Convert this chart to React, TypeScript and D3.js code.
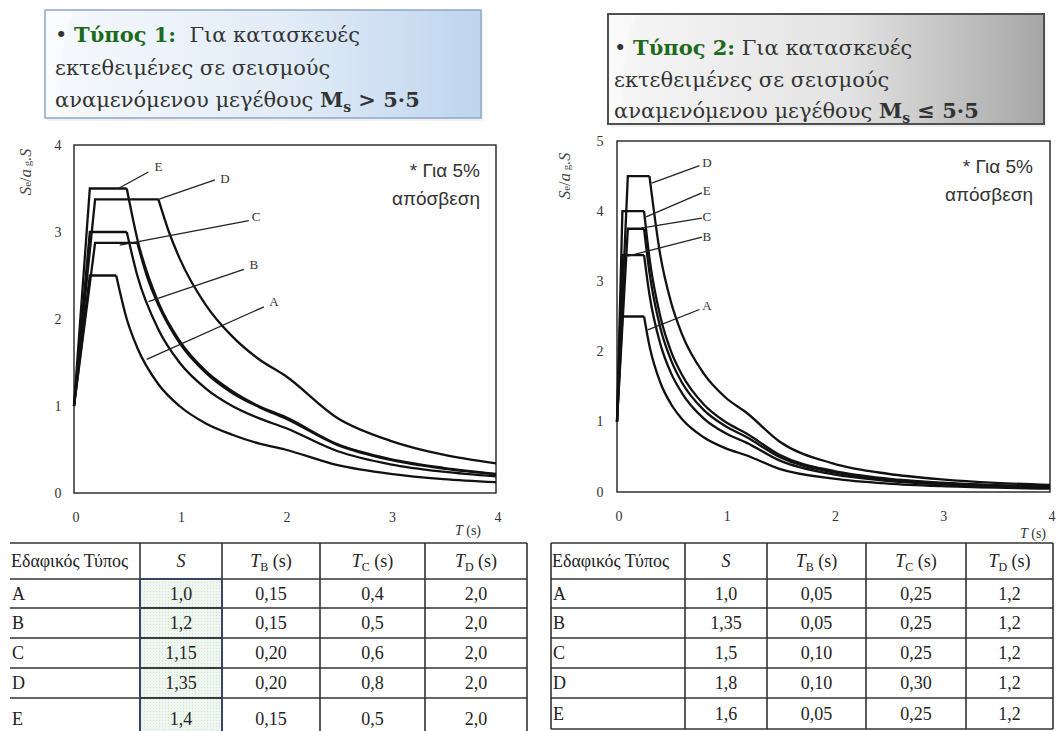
import { useRef, useEffect } from "react";
import * as d3 from "d3";

type Pt = [number, number];

const soilTypes = ["A", "B", "C", "D", "E"];

// Τύπος 1 (Ms > 5.5) table values
const type1S = ["1,0", "1,2", "1,15", "1,35", "1,4"];
const type1TB = ["0,15", "0,15", "0,20", "0,20", "0,15"];
const type1TC = ["0,4", "0,5", "0,6", "0,8", "0,5"];
const type1TD = ["2,0", "2,0", "2,0", "2,0", "2,0"];

// Τύπος 2 (Ms <= 5.5) table values
const type2S = ["1,0", "1,35", "1,5", "1,8", "1,6"];
const type2TB = ["0,05", "0,05", "0,10", "0,10", "0,05"];
const type2TC = ["0,25", "0,25", "0,25", "0,30", "0,25"];
const type2TD = ["1,2", "1,2", "1,2", "1,2", "1,2"];

const periodTicks = [0, 1, 2, 3, 4];
const type1YTicks = [0, 1, 2, 3, 4];
const type2YTicks = [0, 1, 2, 3, 4, 5];

// spectra: [T (s), Se/ag]
const type1A: Pt[] = [[0, 1], [0.15, 2.5], [0.4, 2.5], [0.5, 2.0], [0.6, 1.67], [0.8, 1.25], [1.0, 1.0], [1.25, 0.8], [1.5, 0.67], [1.75, 0.57], [2.0, 0.5], [2.5, 0.32], [3.0, 0.22], [3.5, 0.16], [4.0, 0.125]];
const type1B: Pt[] = [[0, 1], [0.15, 3.0], [0.5, 3.0], [0.6, 2.5], [0.8, 1.88], [1.0, 1.5], [1.25, 1.2], [1.5, 1.0], [1.75, 0.86], [2.0, 0.75], [2.5, 0.48], [3.0, 0.33], [3.5, 0.245], [4.0, 0.19]];
const type1C: Pt[] = [[0, 1], [0.2, 2.875], [0.6, 2.875], [0.7, 2.46], [0.8, 2.16], [1.0, 1.725], [1.25, 1.38], [1.5, 1.15], [1.75, 0.99], [2.0, 0.86], [2.5, 0.55], [3.0, 0.38], [3.5, 0.28], [4.0, 0.215]];
const type1D: Pt[] = [[0, 1], [0.2, 3.375], [0.8, 3.375], [0.9, 3.0], [1.0, 2.7], [1.25, 2.16], [1.5, 1.8], [1.75, 1.54], [2.0, 1.35], [2.5, 0.86], [3.0, 0.6], [3.5, 0.44], [4.0, 0.34]];
const type1E: Pt[] = [[0, 1], [0.15, 3.5], [0.5, 3.5], [0.6, 2.92], [0.8, 2.19], [1.0, 1.75], [1.25, 1.4], [1.5, 1.17], [1.75, 1.0], [2.0, 0.875], [2.5, 0.56], [3.0, 0.39], [3.5, 0.29], [4.0, 0.22]];

const type2A: Pt[] = [[0, 1], [0.05, 2.5], [0.25, 2.5], [0.3, 2.08], [0.4, 1.56], [0.5, 1.25], [0.6, 1.04], [0.8, 0.78], [1.0, 0.625], [1.2, 0.52], [1.5, 0.33], [2.0, 0.19], [2.5, 0.12], [3.0, 0.083], [3.5, 0.061], [4.0, 0.047]];
const type2B: Pt[] = [[0, 1], [0.05, 3.375], [0.25, 3.375], [0.3, 2.81], [0.4, 2.11], [0.5, 1.69], [0.6, 1.41], [0.8, 1.05], [1.0, 0.84], [1.2, 0.7], [1.5, 0.45], [2.0, 0.25], [2.5, 0.16], [3.0, 0.11], [3.5, 0.083], [4.0, 0.063]];
const type2C: Pt[] = [[0, 1], [0.1, 3.75], [0.25, 3.75], [0.3, 3.125], [0.4, 2.34], [0.5, 1.875], [0.6, 1.56], [0.8, 1.17], [1.0, 0.94], [1.2, 0.78], [1.5, 0.5], [2.0, 0.28], [2.5, 0.18], [3.0, 0.125], [3.5, 0.092], [4.0, 0.07]];
const type2D: Pt[] = [[0, 1], [0.1, 4.5], [0.3, 4.5], [0.4, 3.375], [0.5, 2.7], [0.6, 2.25], [0.8, 1.69], [1.0, 1.35], [1.2, 1.125], [1.5, 0.72], [2.0, 0.405], [2.5, 0.26], [3.0, 0.18], [3.5, 0.13], [4.0, 0.1]];
const type2E: Pt[] = [[0, 1], [0.05, 4.0], [0.25, 4.0], [0.3, 3.33], [0.4, 2.5], [0.5, 2.0], [0.6, 1.67], [0.8, 1.25], [1.0, 1.0], [1.2, 0.83], [1.5, 0.53], [2.0, 0.3], [2.5, 0.19], [3.0, 0.133], [3.5, 0.098], [4.0, 0.075]];

// leader lines for the curve names: from (T, Se/ag) on the curve to the label
const type1Leaders = [
  { name: "E", from: [0.42, 3.5], to: [0.705, 3.69], at: [0.8, 3.75] },
  { name: "D", from: [0.8, 3.375], to: [1.336, 3.6], at: [1.43, 3.62] },
  { name: "C", from: [0.434, 2.85], to: [1.657, 3.13], at: [1.727, 3.18] },
  { name: "B", from: [0.705, 2.2], to: [1.61, 2.57], at: [1.705, 2.63] },
  { name: "A", from: [0.689, 1.535], to: [1.8, 2.14], at: [1.895, 2.2] },
];
const type2Leaders = [
  { name: "D", from: [0.321, 4.4], to: [0.762, 4.65], at: [0.83, 4.69] },
  { name: "E", from: [0.269, 3.92], to: [0.784, 4.26], at: [0.83, 4.29] },
  { name: "C", from: [0.222, 3.76], to: [0.784, 3.9], at: [0.83, 3.92] },
  { name: "B", from: [0.099, 3.36], to: [0.784, 3.63], at: [0.83, 3.64] },
  { name: "A", from: [0.284, 2.31], to: [0.762, 2.6], at: [0.83, 2.66] },
];

const W = 1059;
const H = 731;
const SERIF = "'Liberation Serif', 'Times New Roman', serif";
const BOX_SERIF = "'DejaVu Serif', serif";
const SANS = "'Liberation Sans', Arial, sans-serif";

type Sel = d3.Selection<SVGSVGElement, unknown, null, undefined>;

function drawSpectrum(
  svg: Sel,
  cfg: {
    x: d3.ScaleLinear<number, number>;
    y: d3.ScaleLinear<number, number>;
    yTicks: number[];
    curves: Pt[][];
    leaders: { name: string; from: number[]; to: number[]; at: number[] }[];
    yLabel: [number, number];
    tickLabelX: number;
    tUnitPos: [number, number];
    noteRight: number;
  }
) {
  const { x, y, yTicks, curves, leaders } = cfg;
  const g = svg.append("g");
  const yMax = yTicks[yTicks.length - 1];

  // frame
  g.append("rect")
    .attr("x", x(0))
    .attr("y", y(yMax))
    .attr("width", x(4) - x(0))
    .attr("height", y(0) - y(yMax))
    .attr("fill", "#fff")
    .attr("stroke", "#222")
    .attr("stroke-width", 1.4);

  // spectra: straight rise + plateau, smooth decay
  const straight = d3.line<Pt>().x(d => x(d[0])).y(d => y(d[1]));
  const smooth = d3.line<Pt>().x(d => x(d[0])).y(d => y(d[1])).curve(d3.curveMonotoneX);
  curves.forEach(c => {
    g.append("path").attr("d", straight(c.slice(0, 3))).attr("fill", "none")
      .attr("stroke", "#111").attr("stroke-width", 2.3).attr("stroke-linejoin", "miter");
    g.append("path").attr("d", smooth(c.slice(2))).attr("fill", "none")
      .attr("stroke", "#111").attr("stroke-width", 2.3);
  });

  // leader lines + names
  leaders.forEach(l => {
    g.append("line")
      .attr("x1", x(l.from[0])).attr("y1", y(l.from[1]))
      .attr("x2", x(l.to[0])).attr("y2", y(l.to[1]))
      .attr("stroke", "#222").attr("stroke-width", 1.3);
    g.append("text")
      .attr("x", x(l.at[0])).attr("y", y(l.at[1]))
      .attr("text-anchor", "middle").attr("dominant-baseline", "central")
      .attr("font-family", SERIF).attr("font-size", 13).attr("fill", "#333")
      .text(l.name);
  });

  // tick labels
  g.selectAll(".yt").data(yTicks).join("text")
    .attr("x", cfg.tickLabelX).attr("y", d => y(d))
    .attr("text-anchor", "middle").attr("dominant-baseline", "central")
    .attr("font-family", SERIF).attr("font-size", 14).attr("fill", "#333")
    .text(d => d);
  g.selectAll(".xt").data(periodTicks).join("text")
    .attr("x", d => x(d) + 2).attr("y", y(0) + 24)
    .attr("text-anchor", "middle").attr("dominant-baseline", "central")
    .attr("font-family", SERIF).attr("font-size", 14).attr("fill", "#333")
    .text(d => d);

  // T (s)
  const tl = g.append("text").attr("x", cfg.tUnitPos[0]).attr("y", cfg.tUnitPos[1])
    .attr("text-anchor", "middle").attr("font-family", SERIF).attr("font-size", 14).attr("fill", "#333");
  tl.append("tspan").attr("font-style", "italic").text("T");
  tl.append("tspan").text(" (s)");

  // Se/ag.S
  const yl = g.append("text")
    .attr("transform", `translate(${cfg.yLabel[0]},${cfg.yLabel[1]}) rotate(-90)`)
    .attr("text-anchor", "middle").attr("font-family", SERIF).attr("fill", "#444");
  yl.append("tspan").attr("font-style", "italic").attr("font-size", 17).text("S");
  yl.append("tspan").attr("font-size", 11).text("e");
  yl.append("tspan").attr("font-size", 16).text("/");
  yl.append("tspan").attr("font-style", "italic").attr("font-size", 17).text("a");
  yl.append("tspan").attr("font-size", 11).text(" g");
  yl.append("tspan").attr("font-style", "italic").attr("font-size", 16).text(".S");

  // damping note
  const note = g.append("text").attr("text-anchor", "end").attr("font-family", SANS)
    .attr("font-size", 19).attr("fill", "#333");
  note.append("tspan").attr("x", cfg.noteRight).attr("y", y(yMax) + 32).text("* Για 5%");
  note.append("tspan").attr("x", cfg.noteRight).attr("y", y(yMax) + 60).text("απόσβεση");
}

function drawTable(
  svg: Sel,
  cfg: {
    colX: number[];
    rowY: number[];
    leftBorder: boolean;
    lineStart: number;
    values: string[][];
    highlight: boolean;
  }
) {
  const { colX, rowY, values } = cfg;
  const g = svg.append("g").attr("font-family", SERIF).attr("font-size", 18).attr("fill", "#222");
  const right = colX[colX.length - 1];

  if (cfg.highlight) {
    for (let r = 1; r < rowY.length - 1; r++) {
      g.append("rect")
        .attr("x", colX[1]).attr("y", rowY[r])
        .attr("width", colX[2] - colX[1]).attr("height", rowY[r + 1] - rowY[r])
        .attr("fill", "url(#sdots)").attr("stroke", "#3b4668").attr("stroke-width", 1.8);
    }
  }

  // horizontal rules
  rowY.forEach((yy, i) => {
    if (i === rowY.length - 1 && !cfg.leftBorder) return;
    g.append("line").attr("x1", cfg.lineStart).attr("x2", right).attr("y1", yy).attr("y2", yy)
      .attr("stroke", "#333").attr("stroke-width", 1.6);
  });
  // vertical rules
  colX.forEach((xx, i) => {
    if (i === 0 && !cfg.leftBorder) return;
    g.append("line").attr("x1", xx).attr("x2", xx).attr("y1", rowY[0]).attr("y2", rowY[rowY.length - 1])
      .attr("stroke", "#333").attr("stroke-width", 1.6);
  });
  if (cfg.highlight) {
    g.append("rect").attr("x", colX[1]).attr("y", rowY[1])
      .attr("width", colX[2] - colX[1]).attr("height", rowY[rowY.length - 1] - rowY[1])
      .attr("fill", "none").attr("stroke", "#3b4668").attr("stroke-width", 1.8);
  }

  const mid = (r: number) => (rowY[r] + rowY[r + 1]) / 2 + 6;

  // header
  g.append("text").attr("x", colX[0] + 1).attr("y", mid(0)).attr("textLength", 117)
    .attr("lengthAdjust", "spacingAndGlyphs").text("Εδαφικός Τύπος");
  g.append("text").attr("x", (colX[1] + colX[2]) / 2).attr("y", mid(0))
    .attr("text-anchor", "middle").attr("font-style", "italic").text("S");
  ["B", "C", "D"].forEach((sub, i) => {
    const t = g.append("text").attr("x", (colX[i + 2] + colX[i + 3]) / 2).attr("y", mid(0))
      .attr("text-anchor", "middle");
    t.append("tspan").attr("font-style", "italic").text("T");
    t.append("tspan").attr("font-size", 12).attr("dy", 4).text(sub);
    t.append("tspan").attr("dy", -4).text(" (s)");
  });

  soilTypes.forEach((s, r) => {
    g.append("text").attr("x", colX[0] + 2).attr("y", mid(r + 1)).text(s);
    values.forEach((col, c) => {
      g.append("text").attr("x", (colX[c + 1] + colX[c + 2]) / 2).attr("y", mid(r + 1))
        .attr("text-anchor", "middle").text(col[r]);
    });
  });
}

function drawCallout(
  svg: Sel,
  cfg: { x: number; y: number; w: number; h: number; fill: string; stroke: string; strokeW: number; tx: number; lines: number[]; label: string; gap: string; rel: string }
) {
  const g = svg.append("g");
  g.append("rect").attr("x", cfg.x + 2).attr("y", cfg.y + 3).attr("width", cfg.w).attr("height", cfg.h)
    .attr("fill", "#000").attr("opacity", 0.06);
  g.append("rect").attr("x", cfg.x).attr("y", cfg.y).attr("width", cfg.w).attr("height", cfg.h)
    .attr("fill", cfg.fill).attr("stroke", cfg.stroke).attr("stroke-width", cfg.strokeW);
  // glossy left highlight
  g.append("path")
    .attr("d", `M${cfg.x + 1},${cfg.y + 1} L${cfg.x + 28},${cfg.y + 1} Q${cfg.x + 8},${cfg.y + cfg.h / 2} ${cfg.x + 18},${cfg.y + cfg.h - 1} L${cfg.x + 1},${cfg.y + cfg.h - 1} Z`)
    .attr("fill", "#fff").attr("opacity", 0.45);

  const t = g.append("text").attr("font-family", BOX_SERIF).attr("font-size", 21).attr("fill", "#333")
    .style("white-space", "pre");
  const l1 = t.append("tspan").attr("x", cfg.tx).attr("y", cfg.lines[0]);
  l1.append("tspan").text("• ");
  l1.append("tspan").attr("font-weight", "bold").attr("fill", "#1d6a1d").text(cfg.label);
  l1.append("tspan").text(cfg.gap + "Για κατασκευές");
  t.append("tspan").attr("x", cfg.tx).attr("y", cfg.lines[1]).text("εκτεθειμένες σε σεισμούς");
  const l3 = t.append("tspan").attr("x", cfg.tx).attr("y", cfg.lines[2]);
  l3.append("tspan").text("αναμενόμενου μεγέθους ");
  l3.append("tspan").attr("font-weight", "bold").text("M");
  l3.append("tspan").attr("font-weight", "bold").attr("font-size", 14).attr("dy", 5).text("s");
  l3.append("tspan").attr("font-weight", "bold").attr("dy", -5).text(` ${cfg.rel} 5·5`);
}

export default function App() {
  const svgRef = useRef<SVGSVGElement>(null);

  useEffect(() => {
    if (!svgRef.current) return;
    const svg = d3.select(svgRef.current);
    svg.selectAll("*").remove();

    const defs = svg.append("defs");
    const blue = defs.append("linearGradient").attr("id", "blueBox").attr("x1", "0%").attr("x2", "100%");
    blue.append("stop").attr("offset", "0%").attr("stop-color", "#f6f9fd");
    blue.append("stop").attr("offset", "55%").attr("stop-color", "#e2ecf7");
    blue.append("stop").attr("offset", "100%").attr("stop-color", "#bed5ee");
    const grey = defs.append("linearGradient").attr("id", "greyBox").attr("x1", "0%").attr("x2", "100%");
    grey.append("stop").attr("offset", "0%").attr("stop-color", "#f7f7f7");
    grey.append("stop").attr("offset", "55%").attr("stop-color", "#e3e3e3");
    grey.append("stop").attr("offset", "100%").attr("stop-color", "#a6a6a6");
    const pat = defs.append("pattern").attr("id", "sdots").attr("width", 3).attr("height", 3)
      .attr("patternUnits", "userSpaceOnUse");
    pat.append("rect").attr("width", 3).attr("height", 3).attr("fill", "#eef6f0");
    pat.append("rect").attr("width", 1).attr("height", 1).attr("fill", "#d2e3d6");

    svg.append("rect").attr("width", W).attr("height", H).attr("fill", "#fff");

    drawCallout(svg, {
      x: 45, y: 10, w: 436, h: 108, fill: "url(#blueBox)", stroke: "#8ea7c3", strokeW: 1.5,
      tx: 55, lines: [42, 75, 107], label: "Τύπος 1:", gap: "  ", rel: ">",
    });
    drawCallout(svg, {
      x: 608, y: 14, w: 436, h: 110, fill: "url(#greyBox)", stroke: "#505050", strokeW: 2,
      tx: 614, lines: [55, 87, 118], label: "Τύπος 2:", gap: " ", rel: "≤",
    });

    const x1 = d3.scaleLinear().domain([0, 4]).range([74, 496]);
    const y1 = d3.scaleLinear().domain([0, 4]).range([493, 145]);
    drawSpectrum(svg, {
      x: x1, y: y1, yTicks: type1YTicks,
      curves: [type1A, type1B, type1C, type1D, type1E],
      leaders: type1Leaders,
      yLabel: [31, 172], tickLabelX: 58, tUnitPos: [468, 535], noteRight: 480,
    });

    const x2 = d3.scaleLinear().domain([0, 4]).range([617, 1050]);
    const y2 = d3.scaleLinear().domain([0, 5]).range([492, 141]);
    drawSpectrum(svg, {
      x: x2, y: y2, yTicks: type2YTicks,
      curves: [type2A, type2B, type2C, type2D, type2E],
      leaders: type2Leaders,
      yLabel: [570, 176], tickLabelX: 600, tUnitPos: [1033, 538], noteRight: 1033,
    });

    const rows = [543, 579, 608, 638, 668, 698, 729];
    drawTable(svg, {
      colX: [10, 140, 222, 320, 425, 527], rowY: [...rows.slice(0, 6), 740],
      leftBorder: false, lineStart: 10, highlight: true,
      values: [type1S, type1TB, type1TC, type1TD],
    });
    drawTable(svg, {
      colX: [551, 685, 767, 866, 966, 1053], rowY: rows,
      leftBorder: true, lineStart: 551, highlight: false,
      values: [type2S, type2TB, type2TC, type2TD],
    });
  }, []);

  return (
    <svg
      ref={svgRef}
      width={W}
      height={H}
      viewBox={`0 0 ${W} ${H}`}
      style={{ position: "absolute", left: 0, top: 0, display: "block" }}
    />
  );
}
